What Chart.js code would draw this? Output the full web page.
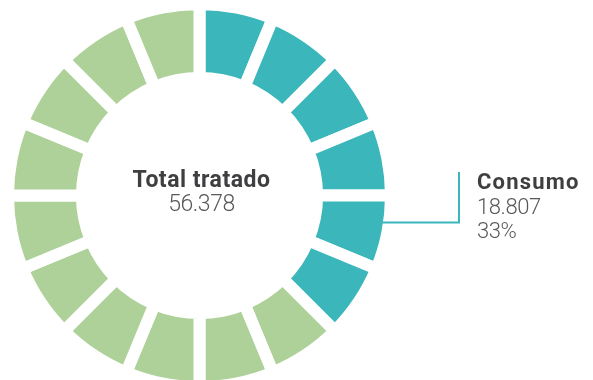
<!DOCTYPE html>
<html>
<head>
<meta charset="utf-8">
<script src="https://cdn.jsdelivr.net/npm/chart.js@4"></script>
<style>
  html, body { margin: 0; padding: 0; background: #ffffff; }
  #wrap { position: relative; width: 593px; height: 380px; }
</style>
</head>
<body>
<div id="wrap"><canvas id="chart" width="593" height="380"></canvas></div>
<script>
// Figures shown in the labels
const totalLabel = 'Total tratado';
const totalValue = '56.378';
const consumoLabel = 'Consumo';
const consumoValue = '18.807';
const consumoPct = '33%';

// Ring of 16 equal tiles; each tile belongs to one group
const segmentValues = [1, 1, 1, 1, 1, 1, 1, 1, 1, 1, 1, 1, 1, 1, 1, 1];
const segmentGroups = [
  'Consumo', 'Consumo', 'Consumo', 'Consumo', 'Consumo', 'Consumo',
  'Resto', 'Resto', 'Resto', 'Resto', 'Resto',
  'Resto', 'Resto', 'Resto', 'Resto', 'Resto'
];
const groupColors = { Consumo: '#3bb7bb', Resto: '#aed199' };

const TEAL = '#3bb7bb';
const DARK = '#3f3f41';
const GREY = '#58585a';

const labelsPlugin = {
  id: 'ringLabels',
  afterDraw(chart) {
    const ctx = chart.ctx;
    const arc = chart.getDatasetMeta(0).data[0];
    const p = arc.getProps(['x', 'y', 'outerRadius'], true);
    const cx = p.x, cy = p.y;
    // connector leaves the ring's outer edge a little below the horizontal axis
    const drop = 27;
    const edge = p.outerRadius - 6;
    const ay = cy + drop;
    const ax = cx + Math.sqrt(edge * edge - drop * drop) - 2;

    ctx.save();
    ctx.strokeStyle = TEAL;
    ctx.lineWidth = 2;
    ctx.beginPath();
    ctx.moveTo(ax, ay);
    ctx.lineTo(459, ay);
    ctx.lineTo(459, 172);
    ctx.stroke();

    // centre text
    ctx.textBaseline = 'alphabetic';
    ctx.textAlign = 'center';
    ctx.fillStyle = DARK;
    ctx.font = '700 23px Roboto';
    ctx.letterSpacing = '0.5px';
    ctx.fillText(totalLabel, cx + 2, 187);
    ctx.fillStyle = GREY;
    ctx.font = '300 23px Roboto';
    ctx.letterSpacing = '-0.5px';
    ctx.fillText(totalValue, cx + 2, 211);

    // callout text
    ctx.textAlign = 'left';
    ctx.fillStyle = DARK;
    ctx.font = '700 22px Roboto';
    ctx.letterSpacing = '1.2px';
    ctx.fillText(consumoLabel, 477, 188.5);
    ctx.fillStyle = GREY;
    ctx.font = '300 22px Roboto';
    ctx.letterSpacing = '-0.4px';
    ctx.fillText(consumoValue, 477, 214);
    ctx.fillText(consumoPct, 477, 237.5);
    ctx.restore();
  }
};

new Chart(document.getElementById('chart'), {
  type: 'doughnut',
  data: {
    labels: segmentGroups,
    datasets: [{
      data: segmentValues,
      backgroundColor: segmentGroups.map(g => groupColors[g]),
      borderColor: '#ffffff',
      borderWidth: 12,
      borderAlign: 'center',
      borderJoinStyle: 'miter',
      hoverOffset: 0,
      clip: false
    }]
  },
  options: {
    responsive: false,
    animation: false,
    radius: 191.5,
    cutout: '61.4%',
    rotation: 0,
    layout: { padding: { left: 14, right: 208, top: 11, bottom: 0 } },
    plugins: {
      legend: { display: false },
      tooltip: { enabled: false }
    }
  },
  plugins: [labelsPlugin]
});
</script>
</body>
</html>
